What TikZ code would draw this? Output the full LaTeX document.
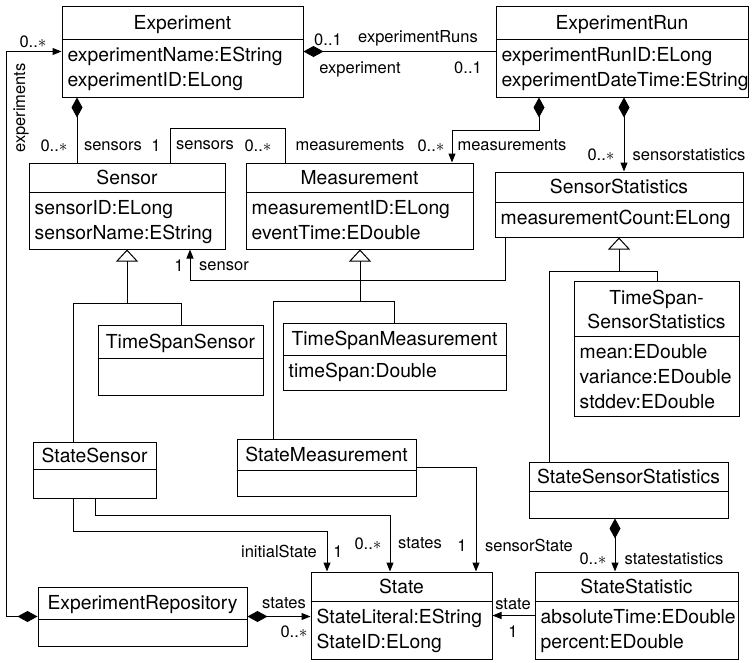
\documentclass[tikz,border=0pt]{standalone}
\usepackage{fontspec}
\setmainfont{TeX Gyre Heros}
\usetikzlibrary{arrows.meta}

\tikzset{
  classbox/.style={draw, line width=1pt, rectangle, inner sep=0pt},
  sepline/.style={line width=1pt},
  classname/.style={anchor=base, inner sep=0pt, font=\fontsize{19.3}{23}\selectfont},
  attr/.style={anchor=base west, inner sep=0pt, font=\fontsize{19.3}{23}\selectfont},
  lbl/.style={anchor=base, inner sep=0pt, font=\fontsize{16.5}{19}\selectfont},
  conn/.style={line width=1pt},
  assoc/.style={conn},
  nav/.style={conn, -{Triangle[length=9pt,width=7pt]}},
  comp/.style={conn, {Diamond[length=20pt,width=11pt]}-},
  compnav/.style={conn, {Diamond[length=20pt,width=11pt]}-{Triangle[length=9pt,width=7pt]}},
  gen/.style={conn, -{Triangle[open,length=12pt,width=22pt]}},
}

% class box: name, left, top, right, bottom, header height, title
\newcommand{\umlclass}[7]{%
  \node[classbox, minimum width={(#4-#2)*1pt}, minimum height={(#5-#3)*1pt}] (#1) at ({(#2+#4)/2},{(#3+#5)/2}) {};
  \coordinate (#1-sep) at ([yshift={-(#6)*1pt}]#1.north west);
  \draw[sepline] (#1-sep) -- (#1-sep -| #1.east);
  \node[classname] (#1-name) at ([yshift={-(#6*0.5+6.9)*1pt}]#1.north) {#7};
}
% attribute line: class, line number, text
\newcommand{\umlattr}[3]{%
  \node[attr] (#1-a#2) at ([xshift=6pt, yshift={-(21.5+(#2-1)*25)*1pt}]#1-sep) {#3};
}
% role / multiplicity label: name, x, y (visual centre), text
\newcommand{\rolelabel}[4]{\node[lbl] (#1) at (#2,{#3+5}) {#4};}

\begin{document}
\begin{tikzpicture}[x=1pt, y=-1pt]
\useasboundingbox (0,0) rectangle (753,662);

% ---------- classes ----------
\umlclass{exp}{62}{6}{303}{97}{34}{Experiment}
\umlattr{exp}{1}{experimentName:EString}
\umlattr{exp}{2}{experimentID:ELong}

\umlclass{run}{496}{6}{748}{97}{34}{ExperimentRun}
\umlattr{run}{1}{experimentRunID:ELong}
\umlattr{run}{2}{experimentDateTime:EString}

\umlclass{sen}{29}{163}{225}{249}{30}{Sensor}
\umlattr{sen}{1}{sensorID:ELong}
\umlattr{sen}{2}{sensorName:EString}

\umlclass{meas}{246}{163}{473}{249}{30}{Measurement}
\umlattr{meas}{1}{measurementID:ELong}
\umlattr{meas}{2}{eventTime:EDouble}

\umlclass{sst}{495}{172}{743}{237}{31}{SensorStatistics}
\umlattr{sst}{1}{measurementCount:ELong}

\umlclass{tss}{98}{325}{263}{395}{34}{TimeSpanSensor}

\umlclass{tsm}{283}{323}{506}{390}{33}{TimeSpanMeasurement}
\umlattr{tsm}{1}{timeSpan:Double}

\umlclass{tsst}{574}{281}{739}{416}{56}{}
\node[classname] (tsst-name1) at ([yshift=-24pt]tsst.north) {TimeSpan-};
\node[classname] (tsst-name2) at ([yshift=-48pt]tsst.north) {SensorStatistics};
\umlattr{tsst}{1}{mean:EDouble}
\umlattr{tsst}{2}{variance:EDouble}
\umlattr{tsst}{3}{stddev:EDouble}

\umlclass{ssen}{33}{442}{156}{498}{28}{StateSensor}
\umlclass{smeas}{237}{439}{416}{496}{32}{StateMeasurement}
\umlclass{sss}{529}{462}{728}{518}{30}{StateSensorStatistics}
\umlclass{repo}{38}{587}{247}{646}{33}{ExperimentRepository}

\umlclass{state}{311}{572}{492}{659}{30}{State}
\umlattr{state}{1}{StateLiteral:EString}
\umlattr{state}{2}{StateID:ELong}

\umlclass{stst}{535}{572}{738}{659}{30}{StateStatistic}
\umlattr{stst}{1}{absoluteTime:EDouble}
\umlattr{stst}{2}{percent:EDouble}

% ---------- routing points ----------
\coordinate (k-es) at (77,0);
\coordinate (sm1) at (170,128);
\coordinate (sm2) at (285,128);
\coordinate (rm1) at (539,130);
\coordinate (rm2) at (452,130);
\coordinate (k-rs) at (624,0);
\coordinate (ss1) at (505,280);
\coordinate (ss2) at (190,280);
\coordinate (g1) at (127,303);
\coordinate (g1l) at (73,303);
\coordinate (g1r) at (181,303);
\coordinate (g2) at (360,301);
\coordinate (g2l) at (273,301);
\coordinate (g2r) at (394,301);
\coordinate (g3) at (619,271);
\coordinate (g3l) at (549,271);
\coordinate (g3r) at (657,271);
\coordinate (is1) at (73,531);
\coordinate (is2) at (327,531);
\coordinate (st1) at (95,515);
\coordinate (st2) at (390,515);
\coordinate (k-sm) at (476,0);
\coordinate (k-sd) at (615,0);
\coordinate (rail) at (6,0);

% ---------- associations ----------
\draw[comp] (exp.east) -- (exp.east -| run.west);
\draw[comp] (exp.south -| k-es) -- (sen.north -| k-es);
\draw[assoc] (sen.north -| sm1) -- (sm1) -- (sm2) -- (meas.north -| sm2);
\draw[compnav] (run.south -| rm1) -- (rm1) -- (rm2) -- (meas.north -| rm2);
\draw[compnav] (run.south -| k-rs) -- (sst.north -| k-rs);
\draw[nav] (sst.south -| ss1) -- (ss1) -- (ss2) -- (sen.south -| ss2);
\draw[nav] (ssen.south -| is1) -- (is1) -- (is2) -- (state.north -| is2);
\draw[nav] (ssen.south -| st1) -- (st1) -- (st2) -- (state.north -| st2);
\draw[nav] (smeas.east) -- (smeas.east -| k-sm) -- (state.north -| k-sm);
\draw[compnav] (sss.south -| k-sd) -- (stst.north -| k-sd);
\draw[nav] (stst.west) -- (stst.west -| state.east);
\draw[compnav] (repo.east) -- (repo.east -| state.west);
\draw[compnav] (repo.west) -- (repo.west -| rail) -- (exp.west -| rail) -- (exp.west);

% ---------- generalisations ----------
\draw[conn] (ssen.north -| g1l) -- (g1l) -- (g1r) -- (tss.north -| g1r);
\draw[gen] (g1) -- (sen.south -| g1);
\draw[conn] (smeas.north -| g2l) -- (g2l) -- (g2r) -- (tsm.north -| g2r);
\draw[gen] (g2) -- (meas.south -| g2);
\draw[conn] (sss.north -| g3l) -- (g3l) -- (g3r) -- (tsst.north -| g3r);
\draw[gen] (g3) -- (sst.south -| g3);

% ---------- role names and multiplicities ----------
\rolelabel{l1}{328}{40}{0..1}
\rolelabel{l2}{418}{37}{experimentRuns}
\rolelabel{l3}{360}{68}{experiment}
\rolelabel{l4}{468}{68}{0..1}
\rolelabel{l5}{54}{146}{0..$\ast$}
\rolelabel{l6}{113}{145}{sensors}
\rolelabel{l7}{156}{146}{1}
\rolelabel{l8}{205}{144}{sensors}
\rolelabel{l9}{258}{146}{0..$\ast$}
\rolelabel{l10}{350}{145}{measurements}
\rolelabel{l11}{431}{146}{0..$\ast$}
\rolelabel{l12}{512}{145}{measurements}
\rolelabel{l13}{601}{155}{0..$\ast$}
\rolelabel{l14}{689}{155}{sensorstatistics}
\rolelabel{l15}{179}{266}{1}
\rolelabel{l16}{224}{265}{sensor}
\rolelabel{l17}{279}{552}{initialState}
\rolelabel{l18}{338}{552}{1}
\rolelabel{l19}{368}{544}{0..$\ast$}
\rolelabel{l20}{420}{543}{states}
\rolelabel{l21}{462}{546}{1}
\rolelabel{l22}{529}{546}{sensorState}
\rolelabel{l23}{593}{559}{0..$\ast$}
\rolelabel{l24}{674}{559}{statestatistics}
\rolelabel{l25}{513}{604}{state}
\rolelabel{l26}{513}{632}{1}
\rolelabel{l27}{284}{603}{states}
\rolelabel{l28}{294}{632}{0..$\ast$}
\rolelabel{l29}{33}{42}{0..$\ast$}
\node[lbl, anchor=center, rotate=90] (l30) at (21,108) {experiments};

\end{tikzpicture}
\end{document}
